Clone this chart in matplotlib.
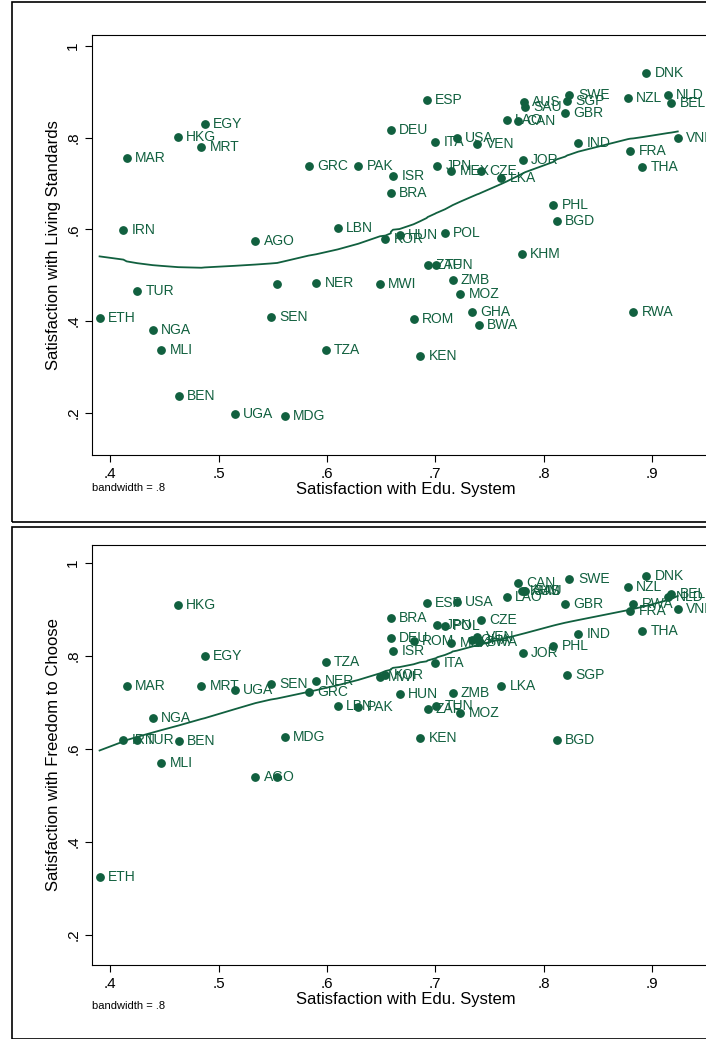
import numpy as np
import matplotlib.pyplot as plt
from matplotlib.patches import Rectangle

plt.rcParams["font.family"] = ["Liberation Sans", "DejaVu Sans"]

GREEN = "#11603f"

codes = ["DNK", "NLD", "BEL", "VNM", "NZL", "SWE", "SGP", "GBR", "AUS", "SAU",
         "LAO", "CAN", "IND", "FRA", "THA", "JOR", "PHL", "BGD", "KHM", "RWA",
         "ESP", "DEU", "ITA", "USA", "VEN", "JPN", "MEX", "CZE", "LKA", "GRC",
         "PAK", "ISR", "BRA", "LBN", "HUN", "KOR", "POL", "ZAF", "TUN", "ZMB",
         "MOZ", "GHA", "BWA", "ROM", "KEN", "MWI", "NER", "", "SEN", "TZA",
         "AGO", "UGA", "MDG", "BEN", "MLI", "NGA", "ETH", "TUR", "IRN", "MAR",
         "HKG", "EGY", "MRT"]

edu = [.895, .915, .918, .924, .878, .824, .822, .820, .782, .783,
       .766, .776, .832, .880, .891, .781, .809, .812, .780, .883,
       .692, .659, .700, .720, .739, .702, .715, .742, .761, .583,
       .629, .661, .659, .610, .667, .654, .709, .693, .701, .716,
       .723, .734, .740, .680, .686, .649, .590, .554, .548, .599,
       .534, .515, .561, .463, .447, .439, .390, .425, .412, .415,
       .462, .487, .484]

living = [.941, .893, .876, .800, .887, .893, .880, .854, .878, .867,
          .839, .837, .789, .771, .736, .751, .653, .618, .547, .420,
          .882, .817, .791, .800, .786, .738, .727, .727, .712, .738,
          .738, .717, .680, .603, .588, .579, .592, .523, .523, .490,
          .459, .420, .392, .405, .324, .481, .483, .481, .409, .337,
          .575, .198, .194, .237, .337, .381, .407, .466, .599, .756,
          .802, .830, .780]

freedom = [.972, .927, .933, .901, .948, .966, .759, .912, .940, .940,
           .927, .957, .847, .897, .854, .806, .822, .619, .940, .912,
           .914, .839, .785, .916, .841, .867, .828, .877, .735, .723,
           .690, .811, .882, .692, .718, .759, .865, .686, .692, .720,
           .677, .834, .830, .832, .624, .755, .746, .540, .740, .787,
           .540, .727, .626, .617, .570, .667, .325, .619, .619, .735,
           .910, .800, .735]


def lowess(x, y, bw=0.8):
    x = np.asarray(x); y = np.asarray(y)
    order = np.argsort(x)
    xs, ys = x[order], y[order]
    n = len(xs)
    k = int(np.floor((n * bw - 0.5) / 2))
    fit = np.empty(n)
    for i in range(n):
        lo, hi = max(0, i - k), min(n, i + k + 1)
        xw, yw = xs[lo:hi], ys[lo:hi]
        d = np.abs(xw - xs[i])
        dmax = 1.0001 * d.max()
        w = (1 - (d / dmax) ** 3) ** 3
        W = w.sum()
        mx, my = (w * xw).sum() / W, (w * yw).sum() / W
        sxx = (w * (xw - mx) ** 2).sum()
        b = (w * (xw - mx) * (yw - my)).sum() / sxx if sxx > 0 else 0
        fit[i] = my + b * (xs[i] - mx)
    return xs, fit


fig = plt.figure(figsize=(7.06, 10.39), dpi=100)
W, H = 706, 1039
for y0, y1 in [(2, 522), (527, 1039)]:
    fig.patches.append(Rectangle((12 / W, 1 - y1 / H), 1, (y1 - y0) / H,
                                 transform=fig.transFigure, fill=False,
                                 edgecolor="black", linewidth=1.2))

panels = [
    (living, "Satisfaction with Living Standards", 35, 455, (0.108, 1.024), 488),
    (freedom, "Satisfaction with Freedom to Choose", 545, 965, (0.135, 1.039), 1006),
]

for yv, ylabel, top, bot, ylim, bwy in panels:
    ax = fig.add_axes([92 / W, 1 - bot / H, 628 / W, (bot - top) / H])
    ax.scatter(edu, yv, s=28, color=GREEN, zorder=3)
    for c, xx, yy in zip(codes, edu, yv):
        ax.annotate(c, (xx, yy), xytext=(6, 0), textcoords="offset points",
                    va="center", ha="left", fontsize=10, color=GREEN)
    lx, ly = lowess(edu, yv)
    ax.plot(lx, ly, color=GREEN, linewidth=1.3)
    ax.set_xlim(0.383, 0.963)
    ax.set_ylim(*ylim)
    ax.set_xticks([.4, .5, .6, .7, .8, .9])
    ax.set_xticklabels([".4", ".5", ".6", ".7", ".8", ".9"])
    ax.set_yticks([.2, .4, .6, .8, 1])
    ax.set_yticklabels([".2", ".4", ".6", ".8", "1"], rotation=90, va="center")
    ax.tick_params(labelsize=11, length=5)
    ax.set_xlabel("Satisfaction with Edu. System", fontsize=12, labelpad=1)
    ax.set_ylabel(ylabel, fontsize=12)
    fig.text(92 / W, 1 - bwy / H, "bandwidth = .8", fontsize=8, va="center")

fig.savefig("out.png", dpi=100)
